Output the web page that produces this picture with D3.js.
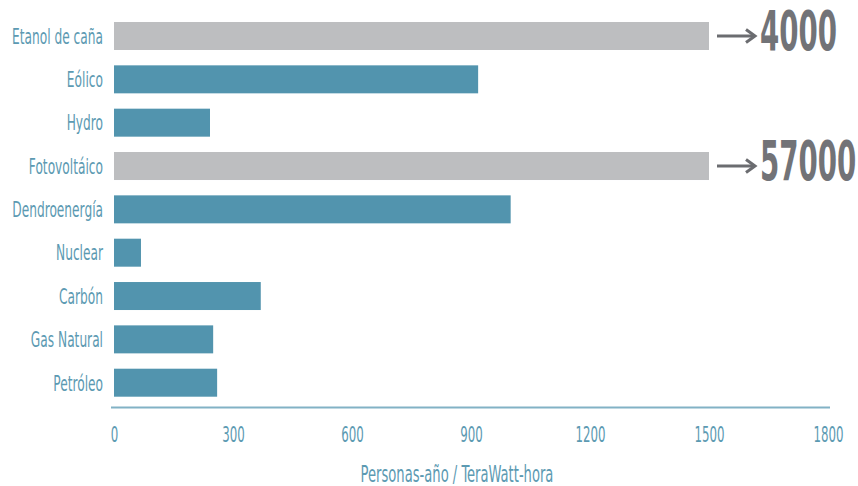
<!DOCTYPE html>
<html>
<head>
<meta charset="utf-8">
<script src="https://cdn.jsdelivr.net/npm/d3@7"></script>
<style>
  html, body { margin: 0; padding: 0; background: #fff; }
  svg { display: block; }
  text { font-family: "DejaVu Sans Condensed", "Liberation Sans Narrow", "DejaVu Sans", sans-serif; font-stretch: condensed; }
</style>
</head>
<body>
<svg id="chart" width="858" height="486"></svg>
<script>
// Empleo por fuente de energía (personas-año por TWh)
const categories = ["Etanol de caña", "Eólico", "Hydro", "Fotovoltáico", "Dendroenergía",
                    "Nuclear", "Carbón", "Gas Natural", "Petróleo"];
const values = [4000, 918, 242, 57000, 1000, 68, 370, 250, 260];
const tickValues = [0, 300, 600, 900, 1200, 1500, 1800];
const axisTitle = "Personas-año / TeraWatt-hora";
// bars longer than this are cut and their value written beside them
const barCap = 1500;

const teal = "#5294ae";
const labelTeal = "#5c9ab2";
const greyBar = "#bdbec0";
const greyText = "#727377";

const svg = d3.select("#chart");

const x = d3.scaleLinear().domain([0, 1800]).range([114, 828]);
const y = d3.scaleBand().domain(categories).range([22, 396.7]).paddingInner(0.354).paddingOuter(0);

// bars
svg.append("g").selectAll("rect")
  .data(categories.map((c, i) => ({ c, v: values[i] })))
  .join("rect")
  .attr("x", x(0))
  .attr("y", d => y(d.c))
  .attr("height", y.bandwidth())
  .attr("width", d => x(Math.min(d.v, barCap)) - x(0))
  .attr("fill", d => d.v > barCap ? greyBar : teal);

// horizontal squeeze for a text style, so that a sample string spans a given width
const probe = svg.append("text").attr("x", -1000).attr("y", -1000);
function squeezeFor(sample, size, weight, width) {
  probe.attr("font-size", size).attr("font-weight", weight).text(sample);
  return width / probe.node().getComputedTextLength();
}
const sqCat = squeezeFor("Etanol de caña", 21.5, "normal", 91);
const sqTick = squeezeFor("1800", 21.5, "normal", 30);
const sqBig = squeezeFor("4000", 55, "bold", 77);
const sqTitle = squeezeFor(axisTitle, 23, "normal", 193);
probe.remove();

function label(g, tx, ty, str, size, anchor, fill, weight, sq) {
  g.append("g")
    .attr("transform", `translate(${tx},${ty}) scale(${sq},1)`)
    .append("text")
    .attr("text-anchor", anchor)
    .attr("font-size", size)
    .attr("font-weight", weight)
    .attr("fill", fill)
    .text(str);
}

// category labels
const catG = svg.append("g");
categories.forEach(c => {
  label(catG, 103, y(c) + y.bandwidth() / 2 + 7.8, c, 21.5, "end", labelTeal, "normal", sqCat);
});

// overflow markers: arrow + value
const over = svg.append("g");
categories.forEach((c, i) => {
  if (values[i] <= barCap) return;
  const cy = y(c) + y.bandwidth() / 2;
  const x0 = x(barCap) + 8, x1 = x0 + 38;
  over.append("line")
    .attr("x1", x0).attr("x2", x1 - 2).attr("y1", cy).attr("y2", cy)
    .attr("stroke", "#6b6c70").attr("stroke-width", 3);
  over.append("path")
    .attr("d", `M${x1 - 9},${cy - 6.5} L${x1},${cy} L${x1 - 9},${cy + 6.5}`)
    .attr("fill", "none").attr("stroke", "#6b6c70").attr("stroke-width", 3)
    .attr("stroke-linejoin", "miter");
  label(over, 760, cy + 14, d3.format("d")(values[i]), 55, "start", greyText, "bold", sqBig);
});

// x axis
const axisY = 407.5;
const axis = d3.axisBottom(x).tickValues(tickValues).tickSize(0).tickPadding(0).tickFormat(d3.format("d"));
const axG = svg.append("g").attr("transform", `translate(0,${axisY})`).call(axis);
axG.select(".domain").remove();
axG.selectAll(".tick text").remove();
axG.append("line").attr("x1", 111).attr("x2", 830).attr("y1", 0).attr("y2", 0)
  .attr("stroke", "#82b2c5").attr("stroke-width", 2);
axG.selectAll(".tick").each(function(d) {
  label(d3.select(this), 0, 34.5, d3.format("d")(d), 21.5, "middle", labelTeal, "normal", sqTick);
});

// axis title
label(svg, 457, 481.5, axisTitle, 23, "middle", labelTeal, "normal", sqTitle);
</script>
</body>
</html>
